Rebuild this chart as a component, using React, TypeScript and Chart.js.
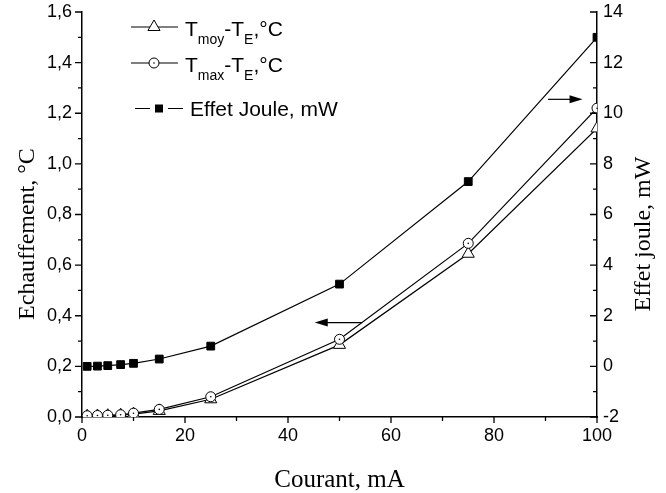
import React, { useEffect, useRef } from 'react';
import { Chart, registerables } from 'chart.js';
Chart.register(...registerables);

// Data
const currents = [1, 3, 5, 7.5, 10, 15, 25, 50, 75, 100];
const tMoy = [0.003, 0.004, 0.005, 0.007, 0.011, 0.024, 0.07, 0.285, 0.645, 1.14];
const tMax = [0.005, 0.006, 0.007, 0.009, 0.015, 0.03, 0.08, 0.307, 0.686, 1.22];
const joule = [0.0, 0.01, 0.03, 0.07, 0.12, 0.29, 0.8, 3.25, 7.3, 13.0];

const xMajor = [0, 20, 40, 60, 80, 100];
const xMinor = [10, 30, 50, 70, 90];
const leftMajor = [0, 0.2, 0.4, 0.6, 0.8, 1.0, 1.2, 1.4, 1.6];
const leftMinor = [0.1, 0.3, 0.5, 0.7, 0.9, 1.1, 1.3, 1.5];
const rightMajor = [-2, 0, 2, 4, 6, 8, 10, 12, 14];
const rightMinor = [-1, 1, 3, 5, 7, 9, 11, 13];

const xTitle = 'Courant, mA';
const leftTitle = 'Echauffement, °C';
const rightTitle = 'Effet joule, mW';
const jouleLegend = 'Effet Joule, mW';

// arrows in data coordinates
const leftArrow = { from: 54.4, to: 45.2, y: 0.373 };
const rightArrow = { from: 90.5, to: 97.2, y: 10.55 };

const SANS = '"Liberation Sans", Arial, sans-serif';
const SERIF = '"Liberation Serif", "Times New Roman", serif';

function arrow(ctx: CanvasRenderingContext2D, x1: number, x2: number, y: number) {
  const dir = x2 > x1 ? 1 : -1;
  ctx.save();
  ctx.strokeStyle = '#000';
  ctx.fillStyle = '#000';
  ctx.lineWidth = 1.2;
  ctx.beginPath();
  ctx.moveTo(x1, y);
  ctx.lineTo(x2 - dir * 10, y);
  ctx.stroke();
  ctx.beginPath();
  ctx.moveTo(x2, y);
  ctx.lineTo(x2 - dir * 13, y - 4);
  ctx.lineTo(x2 - dir * 13, y + 4);
  ctx.closePath();
  ctx.fill();
  ctx.restore();
}

function richText(ctx: CanvasRenderingContext2D, x: number, y: number, parts: [string, boolean][]) {
  let cx = x;
  for (const [t, sub] of parts) {
    ctx.font = sub ? `14px ${SANS}` : `21px ${SANS}`;
    ctx.fillText(t, cx, sub ? y + 8 : y);
    cx += ctx.measureText(t).width;
  }
}

const decorPlugin = {
  id: 'decor',
  afterDatasetsDraw(chart: any) {
    const ctx: CanvasRenderingContext2D = chart.ctx;
    const meta = chart.getDatasetMeta(0);
    ctx.save();
    ctx.fillStyle = '#000';
    meta.data.forEach((p: any) => {
      ctx.beginPath();
      ctx.arc(p.x, p.y, 0.8, 0, Math.PI * 2);
      ctx.fill();
    });
    ctx.restore();
  },
  afterDraw(chart: any) {
    const ctx: CanvasRenderingContext2D = chart.ctx;
    const x = chart.scales.x;
    const yl = chart.scales.y;
    const yr = chart.scales.y1;
    const a = chart.chartArea;
    ctx.save();
    ctx.strokeStyle = '#000';
    ctx.lineWidth = 1.3;
    ctx.beginPath();
    xMajor.forEach((v) => { const px = x.getPixelForValue(v); ctx.moveTo(px, a.bottom); ctx.lineTo(px, a.bottom + 6); });
    xMinor.forEach((v) => { const px = x.getPixelForValue(v); ctx.moveTo(px, a.bottom); ctx.lineTo(px, a.bottom + 4); });
    leftMajor.forEach((v) => { const py = yl.getPixelForValue(v); ctx.moveTo(a.left, py); ctx.lineTo(a.left - 7, py); });
    leftMinor.forEach((v) => { const py = yl.getPixelForValue(v); ctx.moveTo(a.left, py); ctx.lineTo(a.left - 4, py); });
    rightMajor.forEach((v) => { const py = yr.getPixelForValue(v); ctx.moveTo(a.right, py); ctx.lineTo(a.right - 7, py); });
    rightMinor.forEach((v) => { const py = yr.getPixelForValue(v); ctx.moveTo(a.right, py); ctx.lineTo(a.right - 4, py); });
    ctx.stroke();

    arrow(ctx, x.getPixelForValue(leftArrow.from), x.getPixelForValue(leftArrow.to), yl.getPixelForValue(leftArrow.y));
    arrow(ctx, x.getPixelForValue(rightArrow.from), x.getPixelForValue(rightArrow.to), yr.getPixelForValue(rightArrow.y));

    ctx.fillStyle = '#000';
    ctx.font = `25px ${SERIF}`;
    ctx.textAlign = 'center';
    ctx.textBaseline = 'alphabetic';
    ctx.fillText(xTitle, (a.left + a.right) / 2, 487);
    ctx.font = `24px ${SERIF}`;
    ctx.textBaseline = 'middle';
    ctx.save();
    ctx.translate(28, 234);
    ctx.rotate(-Math.PI / 2);
    ctx.fillText(leftTitle, 0, 0);
    ctx.restore();
    ctx.save();
    ctx.translate(644, 234);
    ctx.rotate(-Math.PI / 2);
    ctx.fillText(rightTitle, 0, 0);
    ctx.restore();

    ctx.textAlign = 'left';
    ctx.textBaseline = 'alphabetic';
    ctx.lineWidth = 1;
    ctx.beginPath();
    ctx.moveTo(131, 27); ctx.lineTo(178, 27);
    ctx.stroke();
    ctx.beginPath();
    const r = 7;
    ctx.moveTo(154, 27 - r);
    ctx.lineTo(154 + r * Math.sin(Math.PI * 2 / 3), 27 + r / 2);
    ctx.lineTo(154 - r * Math.sin(Math.PI * 2 / 3), 27 + r / 2);
    ctx.closePath();
    ctx.fillStyle = '#fff';
    ctx.fill();
    ctx.stroke();
    ctx.fillStyle = '#000';
    richText(ctx, 185, 35.5, [['T', false], ['moy', true], ['-T', false], ['E', true], [',°C', false]]);
    ctx.beginPath();
    ctx.moveTo(131, 63); ctx.lineTo(178, 63);
    ctx.stroke();
    ctx.beginPath();
    ctx.arc(154, 63, 5, 0, Math.PI * 2);
    ctx.fillStyle = '#fff';
    ctx.fill();
    ctx.stroke();
    ctx.fillStyle = '#000';
    ctx.beginPath();
    ctx.arc(154, 63, 0.8, 0, Math.PI * 2);
    ctx.fill();
    richText(ctx, 185, 71.5, [['T', false], ['max', true], ['-T', false], ['E', true], [',°C', false]]);
    ctx.beginPath();
    ctx.moveTo(135, 108.5); ctx.lineTo(150, 108.5);
    ctx.moveTo(168, 108.5); ctx.lineTo(183, 108.5);
    ctx.stroke();
    ctx.fillRect(155, 104.5, 8, 8);
    ctx.font = `21px ${SANS}`;
    ctx.fillText(jouleLegend, 190, 116);
    ctx.restore();
  },
};

export default function App() {
  const ref = useRef<HTMLCanvasElement | null>(null);
  useEffect(() => {
    if (!ref.current) return;
    const common = { borderColor: '#000', borderWidth: 1.2, pointBorderColor: '#000', pointBorderWidth: 1, tension: 0 };
    const fitY = (w: number) => (s: any) => { s.width = w; s.paddingTop = 0; s.paddingBottom = 0; };
    const chart = new Chart(ref.current, {
      type: 'line',
      data: {
        datasets: [
          {
            ...common,
            label: 'Tmax-TE',
            data: currents.map((c, i) => ({ x: c, y: tMax[i] })),
            yAxisID: 'y',
            pointStyle: 'circle',
            pointRadius: 5,
            pointBackgroundColor: '#fff',
            order: 0,
          },
          {
            ...common,
            label: 'Tmoy-TE',
            data: currents.map((c, i) => ({ x: c, y: tMoy[i] })),
            yAxisID: 'y',
            pointStyle: 'triangle',
            pointRadius: 7,
            pointBackgroundColor: '#fff',
            order: 1,
          },
          {
            ...common,
            label: 'Effet Joule',
            data: currents.map((c, i) => ({ x: c, y: joule[i] })),
            yAxisID: 'y1',
            pointStyle: 'rect',
            pointRadius: 5.5,
            pointBackgroundColor: '#000',
            order: 2,
          },
        ],
      },
      options: {
        animation: false,
        responsive: false,
        devicePixelRatio: 1,
        layout: { padding: { top: 12, left: 0, right: 0, bottom: 0 } },
        plugins: { legend: { display: false }, tooltip: { enabled: false } },
        scales: {
          x: {
            type: 'linear',
            min: 0,
            max: 100,
            grid: { display: false, drawTicks: false },
            border: { display: true, color: '#000', width: 1.5 },
            ticks: { stepSize: 20, color: '#000', padding: 8, maxRotation: 0, font: { family: SANS, size: 18 } },
            afterFit: (s: any) => { s.height = 76; s.paddingLeft = 0; s.paddingRight = 0; },
          },
          y: {
            type: 'linear',
            position: 'left',
            min: 0,
            max: 1.6,
            grid: { display: false, drawTicks: false },
            border: { display: true, color: '#000', width: 1.5 },
            ticks: {
              stepSize: 0.2,
              color: '#000',
              padding: 10,
              font: { family: SANS, size: 18 },
              callback: (v: any) => Number(v).toFixed(1).replace('.', ','),
            },
            afterFit: fitY(82),
          },
          y1: {
            type: 'linear',
            position: 'right',
            min: -2,
            max: 14,
            grid: { display: false, drawTicks: false },
            border: { display: true, color: '#000', width: 1.5 },
            ticks: { stepSize: 2, color: '#000', padding: 6, font: { family: SANS, size: 18 } },
            afterFit: fitY(69),
          },
        },
      },
      plugins: [decorPlugin],
    } as any);
    return () => chart.destroy();
  }, []);
  return (
    <div style={{ position: 'absolute', left: 0, top: 0, width: 666, height: 493, background: '#fff' }}>
      <canvas ref={ref} width={666} height={493} />
    </div>
  );
}
